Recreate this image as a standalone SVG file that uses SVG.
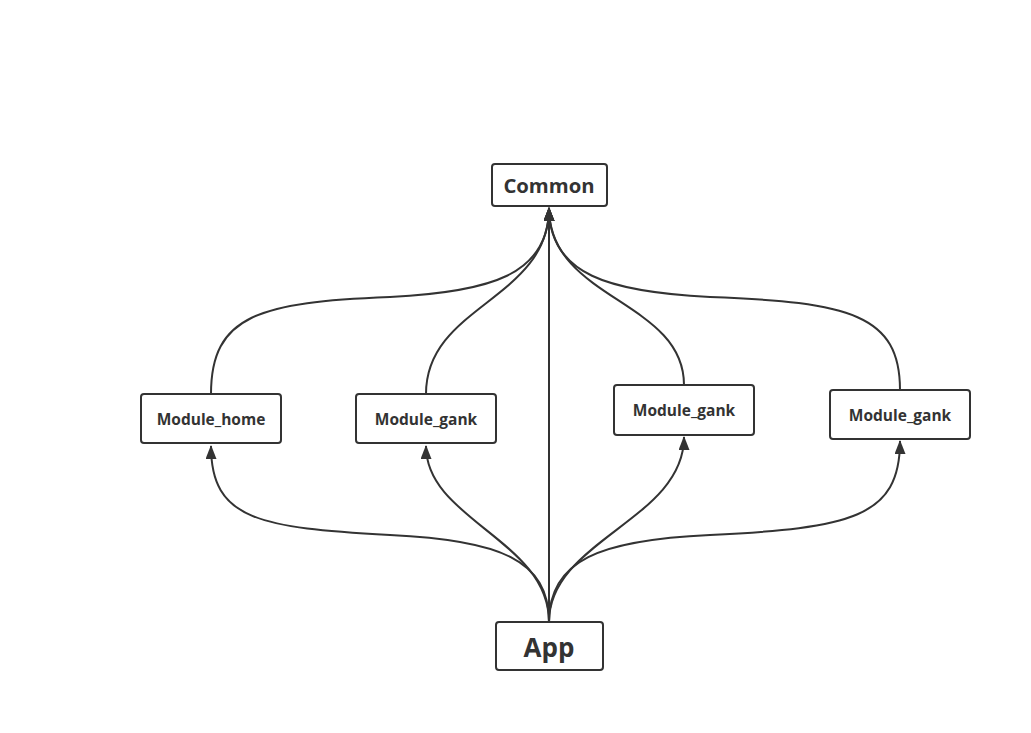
<svg xmlns="http://www.w3.org/2000/svg" width="1031" height="733" viewBox="0 0 1031 733">
<style>
.box{fill:#fff;stroke:#333;stroke-width:2}
.t{font-family:"Open Sans","Noto Sans","DejaVu Sans",sans-serif;font-weight:bold;fill:#333;text-anchor:middle;dominant-baseline:central}
.c{fill:none;stroke:#333;stroke-width:2}
</style>
<defs>
<marker id="ah" viewBox="0 0 14 11" refX="13" refY="5.5" markerWidth="14" markerHeight="11" markerUnits="userSpaceOnUse" orient="auto">
<path d="M0,0 L14,5.5 L0,11 Z" fill="#333"/>
</marker>
</defs>
<rect width="1031" height="733" fill="#fff"/>
<g id="connectors">
<path class="c" d="M211,394 C211,315 260,302 390,297 C490,292 549,275 549,208" marker-end="url(#ah)"/>
<path class="c" d="M426,394 C426,305 549,300 549,208" marker-end="url(#ah)"/>
<path class="c" d="M684,385 C684,300 549,300 549,208" marker-end="url(#ah)"/>
<path class="c" d="M900,390 C900,315 850,302 710,297 C610,292 549,275 549,208" marker-end="url(#ah)"/>
<path class="c" d="M549,622 L549,208" marker-end="url(#ah)"/>
<path class="c" d="M549,622 C549,560 500,540 390,535 C260,528 211,520 211,446" marker-end="url(#ah)"/>
<path class="c" d="M549,622 C549,540 426,520 426,446" marker-end="url(#ah)"/>
<path class="c" d="M549,622 C549,540 684,520 684,437" marker-end="url(#ah)"/>
<path class="c" d="M549,622 C549,560 600,540 710,535 C850,528 900,518 900,441" marker-end="url(#ah)"/>
</g>
<g id="common">
<rect class="box" x="492" y="164" width="115" height="42" rx="3"/>
<text class="t" x="549" y="185" font-size="20.3">Common</text>
</g>
<g id="module_home">
<rect class="box" x="141" y="394" width="140" height="49" rx="3"/>
<text class="t" x="211" y="419" font-size="15.5">Module_home</text>
</g>
<g id="module_gank1">
<rect class="box" x="356" y="394" width="140" height="49" rx="3"/>
<text class="t" x="426" y="419" font-size="15.5">Module_gank</text>
</g>
<g id="module_gank2">
<rect class="box" x="614" y="385" width="140" height="50" rx="3"/>
<text class="t" x="684" y="410" font-size="15.5">Module_gank</text>
</g>
<g id="module_gank3">
<rect class="box" x="830" y="390" width="140" height="49" rx="3"/>
<text class="t" x="900" y="415" font-size="15.5">Module_gank</text>
</g>
<g id="app">
<rect class="box" x="496" y="622" width="107" height="48" rx="3"/>
<text class="t" x="549" y="647" font-size="26">App</text>
</g>
</svg>
